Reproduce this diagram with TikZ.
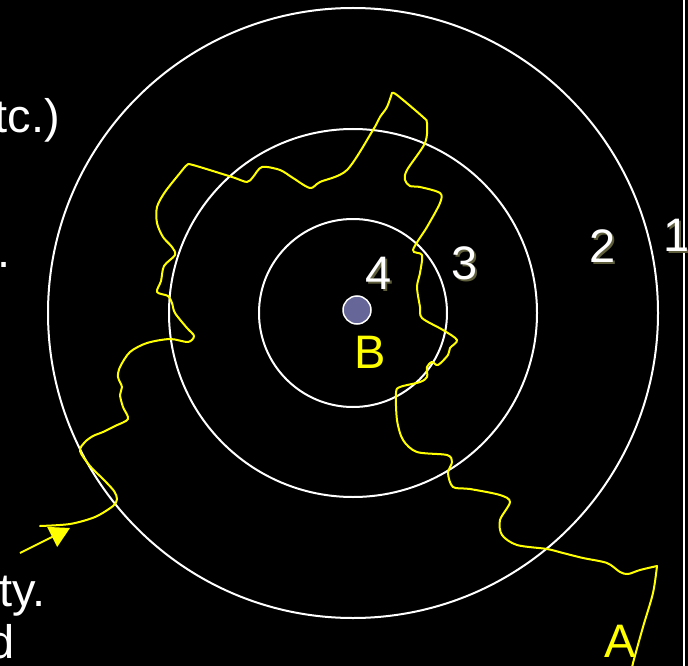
\documentclass[tikz,border=0pt]{standalone}
\usepackage{fontspec}
\setmainfont{Liberation Sans}
\usetikzlibrary{arrows.meta}
\definecolor{ylw}{RGB}{255,255,0}
\definecolor{shad}{RGB}{95,95,62}
\definecolor{dotblue}{RGB}{102,102,153}
\begin{document}
\begin{tikzpicture}[x=1pt,y=-1pt,
  ring/.style={draw=white,line width=2pt},
  walk/.style={draw=ylw,line width=2pt,line join=round,line cap=round},
  big/.style={font=\fontsize{47}{54}\selectfont,inner sep=0pt},
  num/.style={big,text=white},
  numshadow/.style={big,text=shad},
  lab/.style={big,text=ylw},
  side/.style={big,text=white,anchor=base east}]
\fill[black] (0,0) rectangle (688,666);
\useasboundingbox (0,0) rectangle (688,666);
\clip (0,0) rectangle (688,666);
% left text fragments
\node[side] (t1) at (60,133) {etc.)};
\node[side] (t2) at (11,267) {.};
\node[side] (t3) at (46,606) {ty.};
\node[side] (t4) at (15,658) {d};
% rings
\coordinate (c) at (353,313);
\draw[ring] (c) circle[radius=94];
\draw[ring] (c) circle[radius=184];
\draw[ring] (c) circle[radius=305];
\draw[ring] (684,-5) -- (684,671);
% random walk
\draw[walk] plot[smooth,tension=0.5] coordinates {
 (40,526) (70,524) (95,517) (113,506) (117,499) (114,491) (104,480) (90,466) (80,451)
 (85,442) (93,436) (103,432) (115,426) (128,419) (123,407) (120,395) (122,387) (118,377)
 (120,367) (130,352) (147,343) (170,339) (188,342) (194,336) (187,328) (175,313)
 (172,303) (168,296) (157,292) (161,281) (164,266) (175,255) (172,247) (163,237)
 (157,223) (157,207) (165,192) (180,173) (187,165) (193,165) (232,177) (247,182)
 (253,177) (262,167) (280,170) (293,178) (310,188) (320,182) (347,170) (373,130)
 (380,117) (387,107) (392,93)};
\draw[walk] plot[smooth,tension=0.5] coordinates {
 (392,93) (397,95) (423,117) (427,123) (425,143) (407,170) (405,180) (410,186)
 (420,187) (440,193) (440,203) (427,227) (413,250) (422,255) (420,273) (417,287)
 (420,307) (422,318) (443,330) (457,340) (450,348) (448,355) (438,365) (432,362)
 (427,367) (427,377) (420,382) (400,387) (396,393) (397,420) (403,440) (417,452)
 (447,455) (452,462) (448,473) (453,487) (470,489) (500,495) (510,502) (500,520)
 (502,535) (517,545) (547,549) (563,553) (583,558) (607,563) (620,572) (628,574)
 (640,570) (657,566)};
\draw[walk] plot[smooth,tension=0.5] coordinates {
 (657,566) (653,593) (643,627) (633,663) (632,670)};
% entry arrow
\coordinate (s) at (20,553);
\coordinate (e) at (70,528);
\draw[draw=ylw,line width=2pt,-{Triangle[length=20pt,width=22pt]}] (s) -- (e);
% target
\draw[draw=white,fill=dotblue,line width=1.5pt] (357,310) circle[radius=14];
% labels
\foreach \n/\x/\y in {4/379/273,3/465/263,2/603/246,1/677/235}{
  \node[numshadow] at (\x+2,\y+2) {\n};
  \node[num] (n\n) at (\x,\y) {\n};
}
\node[lab] (B) at (370,352) {B};
\node[lab] (A) at (620,641) {A};
\end{tikzpicture}
\end{document}
